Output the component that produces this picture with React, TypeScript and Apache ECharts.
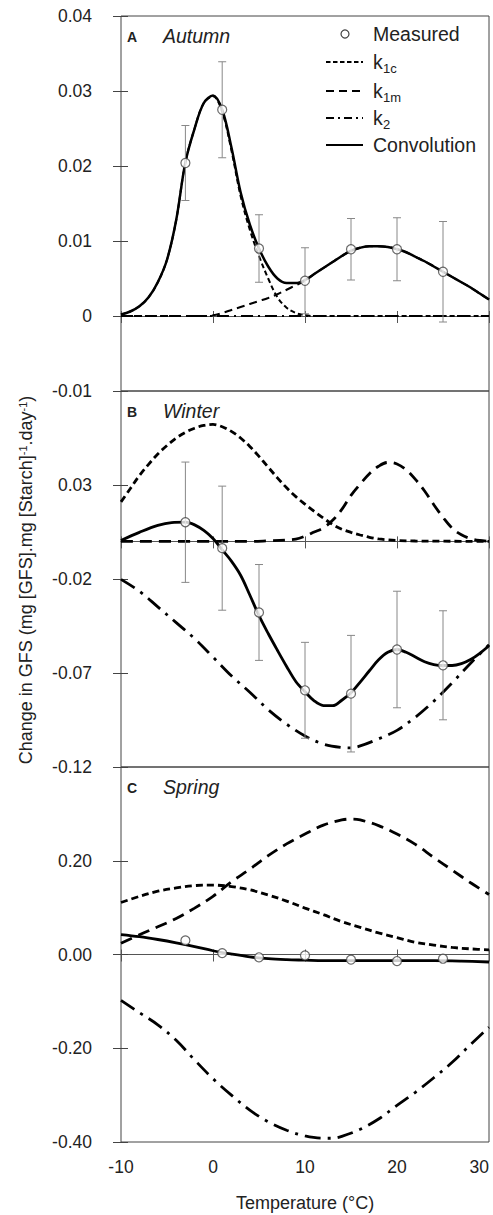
import React, { useEffect, useRef } from "react";
import * as echarts from "echarts";

const FONT = "'Liberation Sans', Arial, Helvetica, sans-serif";

// ---------- x values ----------
const temps = [-10, -9, -8, -7, -6, -5, -4, -3, -2, -1, 0, 1, 2, 3, 4, 5, 6, 7, 8, 9, 10, 11, 12, 13, 14, 15, 16, 17, 18, 19, 20, 21, 22, 23, 24, 25, 26, 27, 28, 29, 30];
const measuredT = [-3, 1, 5, 10, 15, 20, 25];
const xTicks = ["-10", "0", "10", "20", "30"];

// ---------- Panel A: Autumn ----------
const autumnConv = [0.0002, 0.0006, 0.0013, 0.0025, 0.0045, 0.0075, 0.0128, 0.0205, 0.025, 0.0284, 0.0294, 0.0275, 0.0225, 0.0165, 0.0122, 0.009, 0.0066, 0.005, 0.0044, 0.0044, 0.0048, 0.0056, 0.0064, 0.0072, 0.008, 0.0087, 0.0091, 0.0093, 0.0093, 0.0092, 0.0089, 0.0085, 0.0079, 0.0073, 0.0066, 0.0059, 0.0052, 0.0045, 0.0038, 0.003, 0.0022];
const autumnK1c = [0.0002, 0.0006, 0.0013, 0.0025, 0.0045, 0.0075, 0.0128, 0.0205, 0.025, 0.0284, 0.0293, 0.0272, 0.0221, 0.016, 0.0115, 0.008, 0.005, 0.0025, 0.0011, 0.0004, 0.0001, 0, 0, 0, 0, 0, 0, 0, 0, 0, 0, 0, 0, 0, 0, 0, 0, 0, 0, 0, 0];
const autumnK1m = [0, 0, 0, 0, 0, 0, 0, 0, 0, 0, 0.0001, 0.0004, 0.0008, 0.0012, 0.0016, 0.002, 0.0024, 0.0029, 0.0035, 0.0041, 0.0047, 0.0056, 0.0064, 0.0072, 0.008, 0.0087, 0.0091, 0.0093, 0.0093, 0.0092, 0.0089, 0.0085, 0.0079, 0.0073, 0.0066, 0.0059, 0.0052, 0.0045, 0.0038, 0.003, 0.0022];
const autumnK2 = [0, 0, 0, 0, 0, 0, 0, 0, 0, 0, 0, 0, 0, 0, 0, 0, 0, 0, 0, 0, 0, 0, 0, 0, 0, 0, 0, 0, 0, 0, 0, 0, 0, 0, 0, 0, 0, 0, 0, 0, 0];
const autumnMeasured = [0.0204, 0.0275, 0.009, 0.0047, 0.0089, 0.0089, 0.0059];
const autumnErr = [0.005, 0.0064, 0.0045, 0.0044, 0.0041, 0.0042, 0.0067];

// ---------- Panel B: Winter ----------
const winterK1c = [[-10, 0.021], [-9, 0.028], [-8, 0.035], [-7, 0.041], [-6, 0.0465], [-5, 0.051], [-4, 0.055], [-3, 0.058], [-2, 0.0602], [-1, 0.0617], [0, 0.0622], [1, 0.061], [2, 0.0585], [3, 0.055], [4, 0.0505], [5, 0.0452], [6, 0.0395], [7, 0.0338], [8, 0.0285], [9, 0.0238], [10, 0.0198], [11, 0.016], [12, 0.0124], [13, 0.009], [14, 0.0065], [15, 0.0048], [16, 0.0034], [17, 0.0022], [18, 0.0013], [19, 0.0008], [20, 0.0005], [22, 0.0002], [25, 0.0001], [30, 0]];
const winterK1m = [[-10, 0], [0, 0], [4, 0], [6, 0.0003], [8, 0.0007], [9, 0.0012], [10, 0.0028], [11, 0.005], [12, 0.0072], [13, 0.0112], [14, 0.017], [15, 0.0245], [16, 0.0305], [17, 0.036], [18, 0.04], [19, 0.042], [20, 0.0412], [21, 0.0381], [22, 0.033], [23, 0.0268], [24, 0.0195], [25, 0.0128], [26, 0.007], [27, 0.0035], [28, 0.0015], [29, 0.0005], [30, 0]];
const winterK2 = [[-10, -0.0202], [-8, -0.0265], [-6, -0.0348], [-4, -0.0432], [-2, -0.0517], [0, -0.0615], [2, -0.0715], [4, -0.0802], [6, -0.0895], [8, -0.0972], [10, -0.1035], [12, -0.1078], [14, -0.1096], [15, -0.1098], [16, -0.1088], [18, -0.105], [20, -0.1005], [22, -0.0935], [24, -0.085], [26, -0.0752], [28, -0.0648], [30, -0.055]];
const winterConv = [[-10, 0.0005], [-8, 0.0048], [-6, 0.0085], [-4.5, 0.01], [-3, 0.0102], [-2, 0.0088], [-1, 0.0058], [0, 0.0015], [1, -0.0045], [2, -0.0105], [3, -0.018], [4, -0.0285], [5, -0.0395], [6, -0.049], [7, -0.0579], [8, -0.0665], [9, -0.0745], [10, -0.08], [11, -0.0848], [12, -0.0873], [13, -0.0874], [14, -0.0845], [15, -0.0805], [16, -0.0748], [17, -0.0688], [18, -0.063], [19, -0.059], [20, -0.0575], [21, -0.059], [22, -0.0615], [23, -0.064], [24, -0.0655], [25, -0.066], [26, -0.066], [27, -0.065], [28, -0.0628], [29, -0.0595], [30, -0.0555]];
const winterMeasured = [0.0102, -0.0036, -0.0378, -0.0792, -0.081, -0.0575, -0.0659];
const winterErr = [0.032, 0.033, 0.0255, 0.0255, 0.031, 0.031, 0.029];

// ---------- Panel C: Spring ----------
const springK1c = [[-10, 0.111], [-8, 0.124], [-6, 0.135], [-4, 0.142], [-2, 0.147], [0, 0.148], [2, 0.145], [4, 0.138], [6, 0.127], [8, 0.114], [10, 0.099], [12, 0.085], [14, 0.07], [16, 0.058], [18, 0.046], [20, 0.036], [22, 0.026], [24, 0.02], [26, 0.015], [28, 0.012], [30, 0.01]];
const springK1m = [[-10, 0.024], [-8, 0.042], [-6, 0.059], [-4, 0.077], [-2, 0.099], [0, 0.124], [2, 0.155], [4, 0.182], [6, 0.211], [8, 0.236], [10, 0.257], [12, 0.276], [14, 0.287], [15, 0.289], [16, 0.287], [18, 0.275], [20, 0.257], [22, 0.235], [24, 0.207], [26, 0.18], [28, 0.153], [30, 0.128]];
const springK2 = [[-10, -0.098], [-8, -0.124], [-6, -0.15], [-4, -0.183], [-2, -0.225], [0, -0.265], [2, -0.3], [4, -0.332], [6, -0.357], [8, -0.375], [10, -0.387], [12, -0.392], [13, -0.392], [14, -0.388], [16, -0.373], [18, -0.351], [20, -0.322], [22, -0.294], [24, -0.263], [26, -0.23], [28, -0.192], [30, -0.155]];
const springConv = [[-10, 0.0425], [-8, 0.038], [-6, 0.032], [-4, 0.025], [-2, 0.017], [0, 0.008], [2, 0.001], [4, -0.005], [6, -0.009], [8, -0.011], [10, -0.012], [12, -0.013], [16, -0.013], [20, -0.013], [24, -0.013], [27, -0.014], [30, -0.016]];
const springMeasured = [0.03, 0.003, -0.006, -0.002, -0.011, -0.014, -0.009];

// ---------- panel labels / legend ----------
const panelLetters = ["A", "B", "C"];
const panelSeasons = ["Autumn", "Winter", "Spring"];
const legendNames = ["Measured", "k", "k", "k", "Convolution"];
const legendSubs = ["", "1c", "1m", "2", ""];

const zip = (xs: number[], ys: number[]) => xs.map((x, i) => [x, ys[i]]);

const AXIS_COLOR = "#444";

export default function App() {
  const ref = useRef<HTMLDivElement>(null);
  useEffect(() => {
    if (!ref.current) return;
    const chart = echarts.init(ref.current, undefined, { renderer: "svg" });

    const L = 121;
    const W = 368;
    const panels = [
      { top: 16, height: 375, min: -0.01, max: 0.04, interval: 0.01, fmt: (v: number) => (Math.abs(v) < 1e-9 ? "0" : v.toFixed(2)) },
      { top: 391, height: 376, min: -0.12, max: 0.08, interval: 0.05, fmt: (v: number) => (v > 0.075 ? "" : v.toFixed(2)) },
      { top: 767, height: 375, min: -0.4, max: 0.4, interval: 0.2, fmt: (v: number) => (v > 0.35 ? "" : Math.abs(v) < 1e-9 ? "0.00" : v.toFixed(2)) },
    ];

    const grid = panels.map((p) => ({
      left: L, top: p.top, width: W, height: p.height, show: true,
      borderColor: AXIS_COLOR, borderWidth: 1, backgroundColor: "transparent",
      containLabel: false, outerBoundsMode: "none",
    }));

    const xAxis: any[] = [];
    const yAxis: any[] = [];
    panels.forEach((p, g) => {
      const base = { type: "value", gridIndex: g, min: -10, max: 30, interval: 10, splitLine: { show: false }, axisLabel: { show: false } };
      xAxis.push({ ...base, position: "bottom", axisLine: { show: true, onZero: true, onZeroAxisIndex: g * 2, lineStyle: { color: "#555", width: 1 } }, axisTick: { show: true, length: 7, lineStyle: { color: "#555" } } });
      xAxis.push({ ...base, position: "top", axisLine: { show: true, onZero: true, onZeroAxisIndex: g * 2, lineStyle: { color: "#555", width: 1 } }, axisTick: { show: true, length: 5, lineStyle: { color: "#555" } } });
      const ybase = { type: "value", gridIndex: g, min: p.min, max: p.max, interval: p.interval, splitLine: { show: false }, position: "left" };
      yAxis.push({ ...ybase, axisLine: { show: false, onZero: false }, axisTick: { show: true, length: 8, lineStyle: { color: AXIS_COLOR } }, axisLabel: { show: true, margin: 29, fontSize: 17.5, fontFamily: FONT, color: "#222", formatter: p.fmt } });
      yAxis.push({ ...ybase, axisLine: { show: false, onZero: false }, axisTick: { show: true, inside: true, length: 7, lineStyle: { color: AXIS_COLOR } }, axisLabel: { show: false } });
    });
    // bottom labels axis for panel C
    xAxis.push({
      type: "value", gridIndex: 2, min: -10, max: 30, interval: 10, position: "bottom",
      splitLine: { show: false }, axisLine: { show: false, onZero: false }, axisTick: { show: false },
      axisLabel: { show: true, margin: 16, fontSize: 17.5, fontFamily: FONT, color: "#222", alignMaxLabel: "right", formatter: (v: number) => xTicks[Math.round((v + 10) / 10)] },
      name: "Temperature (°C)", nameLocation: "middle", nameGap: 52,
      nameTextStyle: { fontSize: 18, fontFamily: FONT, color: "#222" },
    });

    const line = (name: string, data: any[], g: number, dash: any, width: number, z: number) => ({
      type: "line", name, data, xAxisIndex: g * 2, yAxisIndex: g * 2, smooth: 0.35,
      showSymbol: false, symbol: "none", silent: true, z,
      lineStyle: { color: "#000", width, type: dash, cap: "butt" },
    });
    const errBars = (g: number, m: number[], e: number[]) => ({
      type: "custom", xAxisIndex: g * 2, yAxisIndex: g * 2, silent: true, z: 4,
      data: measuredT.map((t, i) => [t, m[i] - e[i], m[i] + e[i]]),
      encode: { x: 0, y: [1, 2] },
      renderItem: (params: any, api: any) => {
        const x = api.value(0);
        const p1 = api.coord([x, api.value(2)]);
        const p2 = api.coord([x, api.value(1)]);
        const st = { stroke: "#888", lineWidth: 1 };
        return {
          type: "group",
          children: [
            { type: "line", shape: { x1: p1[0], y1: p1[1], x2: p2[0], y2: p2[1] }, style: st },
            { type: "line", shape: { x1: p1[0] - 4, y1: p1[1], x2: p1[0] + 4, y2: p1[1] }, style: st },
            { type: "line", shape: { x1: p2[0] - 4, y1: p2[1], x2: p2[0] + 4, y2: p2[1] }, style: st },
          ],
        };
      },
    });
    const scatter = (g: number, m: number[]) => ({
      type: "scatter", xAxisIndex: g * 2, yAxisIndex: g * 2, silent: true, z: 6,
      data: zip(measuredT, m), symbol: "circle", symbolSize: 9,
      itemStyle: { color: "#fff", borderColor: "#444", borderWidth: 1.2 },
    });

    const dA = { k1c: [5, 3], k1m: [8, 5], k2: [12, 5, 2, 5] };
    const dB = { k1c: [7, 4], k1m: [12, 7], k2: [16, 7, 3, 7] };

    const series: any[] = [
      line("k2", zip(temps, autumnK2), 0, dA.k2, 2, 2),
      line("k1m", zip(temps, autumnK1m), 0, dA.k1m, 2, 2),
      line("k1c", zip(temps, autumnK1c), 0, dA.k1c, 2, 2),
      line("Convolution", zip(temps, autumnConv), 0, "solid", 2.5, 3),
      errBars(0, autumnMeasured, autumnErr),
      scatter(0, autumnMeasured),

      line("k2", winterK2, 1, dB.k2, 2.8, 2),
      line("k1m", winterK1m, 1, dB.k1m, 2.8, 2),
      line("k1c", winterK1c, 1, dB.k1c, 2.8, 2),
      line("Convolution", winterConv, 1, "solid", 2.8, 3),
      errBars(1, winterMeasured, winterErr),
      scatter(1, winterMeasured),

      line("k2", springK2, 2, dB.k2, 2.8, 2),
      line("k1m", springK1m, 2, dB.k1m, 2.8, 2),
      line("k1c", springK1c, 2, dB.k1c, 2.8, 2),
      line("Convolution", springConv, 2, "solid", 2.8, 3),
      scatter(2, springMeasured),
    ];

    const graphic: any[] = [];
    panels.forEach((p, g) => {
      graphic.push({ type: "text", x: 127, y: p.top + 21, style: { text: panelLetters[g], fontSize: 14, fontWeight: "bold", fontFamily: FONT, fill: "#222", verticalAlign: "middle" } });
      graphic.push({ type: "text", x: 163, y: p.top + 20, style: { text: panelSeasons[g], fontSize: 19.5, fontStyle: "italic", fontFamily: FONT, fill: "#222", verticalAlign: "middle" } });
    });
    // legend
    const legY = [34, 62, 91, 118, 145];
    const legDash: any[] = [null, [4.5, 2.5], [8, 5], [8, 4, 2, 4], null];
    legY.forEach((y, i) => {
      if (i === 0) {
        graphic.push({ type: "circle", shape: { cx: 345, cy: y, r: 4 }, style: { fill: "#fff", stroke: "#444", lineWidth: 1.2 } });
      } else {
        graphic.push({ type: "line", shape: { x1: 326, y1: y, x2: 363, y2: y }, style: { stroke: "#000", lineWidth: 2, lineDash: legDash[i] || undefined } });
      }
      graphic.push({ type: "text", x: 373, y, style: { text: legendNames[i], fontSize: 19.5, fontFamily: FONT, fill: "#222", verticalAlign: "middle" } });
      if (legendSubs[i]) {
        graphic.push({ type: "text", x: 383, y: y + 6, style: { text: legendSubs[i], fontSize: 13, fontFamily: FONT, fill: "#222", verticalAlign: "middle" } });
      }
    });
    // y-axis title
    graphic.push({
      type: "text", x: 26, y: 580, rotation: Math.PI / 2,
      style: {
        text: "Change in GFS (mg [GFS].mg [Starch]{s|-1}.day{s|-1})",
        fontSize: 18, fontFamily: FONT, fill: "#222", align: "center", verticalAlign: "middle",
        rich: { s: { fontSize: 11, fontFamily: FONT, fill: "#222", verticalAlign: "top" } },
      },
    });

    chart.setOption({ animation: false, backgroundColor: "#fff", grid, xAxis, yAxis, series, graphic });
    return () => chart.dispose();
  }, []);
  return <div ref={ref} style={{ position: "absolute", left: 0, top: 0, width: 493, height: 1215 }} />;
}
